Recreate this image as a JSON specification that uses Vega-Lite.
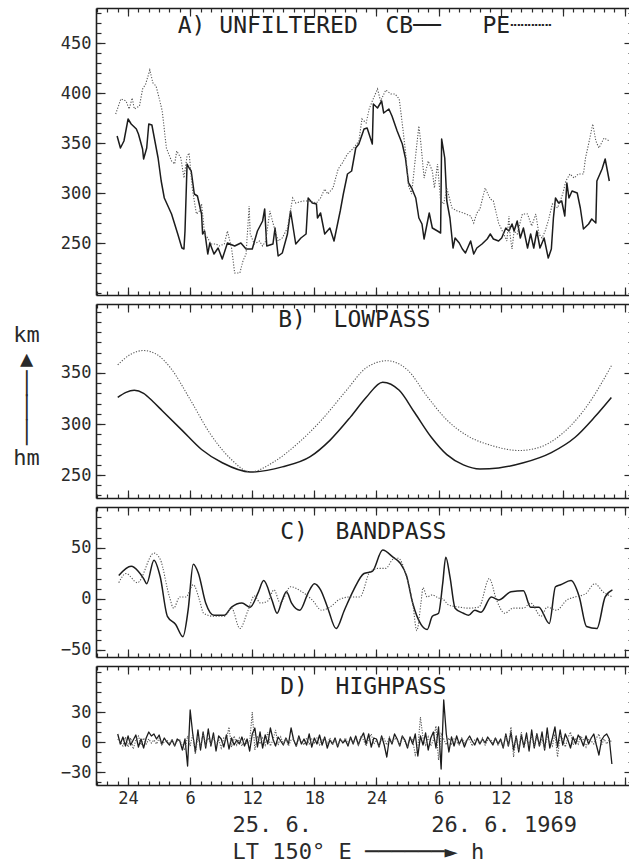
{
  "$schema": "https://vega.github.io/schema/vega-lite/v6.json",
  "background": "white",
  "autosize": {"type": "pad"},
  "padding": {"left": 12, "top": 7, "right": 0, "bottom": 0},
  "spacing": 7,
  "datasets": {
    "A": [
      {"t":22.94,"s":"CB","v":357},{"t":23.26,"s":"CB","v":345},{"t":23.6,"s":"CB","v":352},{"t":24.0,"s":"CB","v":374},{"t":24.3,"s":"CB","v":369},{"t":24.8,"s":"CB","v":364},{"t":25.0,"s":"CB","v":359},{"t":25.4,"s":"CB","v":344},{"t":25.5,"s":"CB","v":334},{"t":25.8,"s":"CB","v":345},{"t":26.0,"s":"CB","v":369},{"t":26.3,"s":"CB","v":368},{"t":26.9,"s":"CB","v":335},{"t":27.2,"s":"CB","v":312},{"t":27.5,"s":"CB","v":295},{"t":28.2,"s":"CB","v":279},{"t":28.8,"s":"CB","v":259},{"t":29.2,"s":"CB","v":245},{"t":29.4,"s":"CB","v":244},{"t":29.5,"s":"CB","v":262},{"t":29.7,"s":"CB","v":329},{"t":29.9,"s":"CB","v":325},{"t":30.1,"s":"CB","v":322},{"t":30.4,"s":"CB","v":299},{"t":30.7,"s":"CB","v":297},{"t":31.1,"s":"CB","v":279},{"t":31.2,"s":"CB","v":259},{"t":31.4,"s":"CB","v":262},{"t":31.7,"s":"CB","v":239},{"t":31.9,"s":"CB","v":250},{"t":32.3,"s":"CB","v":239},{"t":32.7,"s":"CB","v":245},{"t":33.1,"s":"CB","v":234},{"t":33.6,"s":"CB","v":250},{"t":34.3,"s":"CB","v":247},{"t":34.9,"s":"CB","v":250},{"t":35.4,"s":"CB","v":244},{"t":36.0,"s":"CB","v":244},{"t":36.5,"s":"CB","v":262},{"t":37.0,"s":"CB","v":272},{"t":37.2,"s":"CB","v":284},{"t":37.4,"s":"CB","v":247},{"t":38.0,"s":"CB","v":249},{"t":38.2,"s":"CB","v":265},{"t":38.5,"s":"CB","v":237},{"t":38.9,"s":"CB","v":240},{"t":39.4,"s":"CB","v":259},{"t":39.7,"s":"CB","v":282},{"t":40.2,"s":"CB","v":249},{"t":40.7,"s":"CB","v":255},{"t":41.2,"s":"CB","v":259},{"t":41.4,"s":"CB","v":295},{"t":41.8,"s":"CB","v":290},{"t":42.2,"s":"CB","v":289},{"t":42.3,"s":"CB","v":275},{"t":42.6,"s":"CB","v":280},{"t":43.0,"s":"CB","v":259},{"t":43.5,"s":"CB","v":265},{"t":43.9,"s":"CB","v":252},{"t":44.3,"s":"CB","v":272},{"t":44.5,"s":"CB","v":282},{"t":44.8,"s":"CB","v":299},{"t":45.2,"s":"CB","v":319},{"t":45.6,"s":"CB","v":322},{"t":46.0,"s":"CB","v":345},{"t":46.3,"s":"CB","v":349},{"t":46.8,"s":"CB","v":364},{"t":47.1,"s":"CB","v":365},{"t":47.6,"s":"CB","v":349},{"t":47.7,"s":"CB","v":389},{"t":48.1,"s":"CB","v":385},{"t":48.5,"s":"CB","v":392},{"t":48.7,"s":"CB","v":380},{"t":49.2,"s":"CB","v":384},{"t":49.5,"s":"CB","v":377},{"t":50.0,"s":"CB","v":362},{"t":50.5,"s":"CB","v":349},{"t":50.8,"s":"CB","v":335},{"t":51.1,"s":"CB","v":310},{"t":51.4,"s":"CB","v":305},{"t":51.8,"s":"CB","v":295},{"t":52.1,"s":"CB","v":275},{"t":52.4,"s":"CB","v":269},{"t":52.6,"s":"CB","v":254},{"t":53.1,"s":"CB","v":280},{"t":53.4,"s":"CB","v":265},{"t":53.9,"s":"CB","v":262},{"t":54.2,"s":"CB","v":260},{"t":54.3,"s":"CB","v":354},{"t":54.6,"s":"CB","v":335},{"t":54.8,"s":"CB","v":292},{"t":55.1,"s":"CB","v":275},{"t":55.4,"s":"CB","v":245},{"t":55.6,"s":"CB","v":255},{"t":56.0,"s":"CB","v":250},{"t":56.3,"s":"CB","v":244},{"t":56.6,"s":"CB","v":240},{"t":57.1,"s":"CB","v":252},{"t":57.4,"s":"CB","v":239},{"t":57.7,"s":"CB","v":245},{"t":58.2,"s":"CB","v":249},{"t":58.7,"s":"CB","v":254},{"t":59.0,"s":"CB","v":259},{"t":59.3,"s":"CB","v":254},{"t":59.8,"s":"CB","v":252},{"t":60.1,"s":"CB","v":255},{"t":60.5,"s":"CB","v":265},{"t":60.8,"s":"CB","v":262},{"t":61.1,"s":"CB","v":269},{"t":61.3,"s":"CB","v":262},{"t":61.6,"s":"CB","v":272},{"t":61.9,"s":"CB","v":255},{"t":62.2,"s":"CB","v":265},{"t":62.6,"s":"CB","v":245},{"t":62.9,"s":"CB","v":259},{"t":63.2,"s":"CB","v":245},{"t":63.5,"s":"CB","v":262},{"t":63.8,"s":"CB","v":245},{"t":64.2,"s":"CB","v":255},{"t":64.6,"s":"CB","v":235},{"t":64.9,"s":"CB","v":244},{"t":65.1,"s":"CB","v":275},{"t":65.3,"s":"CB","v":295},{"t":65.6,"s":"CB","v":290},{"t":65.9,"s":"CB","v":292},{"t":66.2,"s":"CB","v":277},{"t":66.4,"s":"CB","v":310},{"t":66.6,"s":"CB","v":295},{"t":66.9,"s":"CB","v":302},{"t":67.4,"s":"CB","v":300},{"t":67.7,"s":"CB","v":285},{"t":68.0,"s":"CB","v":264},{"t":68.5,"s":"CB","v":269},{"t":68.8,"s":"CB","v":274},{"t":69.2,"s":"CB","v":270},{"t":69.3,"s":"CB","v":312},{"t":69.8,"s":"CB","v":324},{"t":70.1,"s":"CB","v":334},{"t":70.5,"s":"CB","v":312},
      {"t":22.8,"s":"PE","v":379},{"t":23.3,"s":"PE","v":394},{"t":23.8,"s":"PE","v":392},{"t":24.1,"s":"PE","v":384},{"t":24.4,"s":"PE","v":395},{"t":24.6,"s":"PE","v":384},{"t":25.1,"s":"PE","v":387},{"t":25.4,"s":"PE","v":404},{"t":25.7,"s":"PE","v":409},{"t":26.1,"s":"PE","v":423},{"t":26.4,"s":"PE","v":410},{"t":26.7,"s":"PE","v":407},{"t":27.0,"s":"PE","v":395},{"t":27.3,"s":"PE","v":382},{"t":27.7,"s":"PE","v":345},{"t":28.2,"s":"PE","v":332},{"t":28.5,"s":"PE","v":329},{"t":28.7,"s":"PE","v":342},{"t":29.1,"s":"PE","v":335},{"t":29.4,"s":"PE","v":315},{"t":29.7,"s":"PE","v":337},{"t":29.9,"s":"PE","v":340},{"t":30.2,"s":"PE","v":305},{"t":30.6,"s":"PE","v":279},{"t":30.9,"s":"PE","v":282},{"t":31.1,"s":"PE","v":289},{"t":31.4,"s":"PE","v":259},{"t":31.7,"s":"PE","v":255},{"t":32.0,"s":"PE","v":249},{"t":32.5,"s":"PE","v":249},{"t":32.8,"s":"PE","v":247},{"t":33.3,"s":"PE","v":249},{"t":33.6,"s":"PE","v":262},{"t":34.0,"s":"PE","v":245},{"t":34.3,"s":"PE","v":220},{"t":34.8,"s":"PE","v":220},{"t":35.1,"s":"PE","v":232},{"t":35.4,"s":"PE","v":239},{"t":35.7,"s":"PE","v":287},{"t":35.8,"s":"PE","v":259},{"t":36.2,"s":"PE","v":249},{"t":36.7,"s":"PE","v":252},{"t":37.0,"s":"PE","v":247},{"t":37.3,"s":"PE","v":252},{"t":37.7,"s":"PE","v":282},{"t":38.0,"s":"PE","v":270},{"t":38.5,"s":"PE","v":252},{"t":38.9,"s":"PE","v":255},{"t":39.4,"s":"PE","v":265},{"t":39.9,"s":"PE","v":295},{"t":40.2,"s":"PE","v":290},{"t":40.9,"s":"PE","v":292},{"t":41.5,"s":"PE","v":292},{"t":42.2,"s":"PE","v":290},{"t":42.6,"s":"PE","v":295},{"t":43.0,"s":"PE","v":304},{"t":43.3,"s":"PE","v":299},{"t":43.8,"s":"PE","v":305},{"t":44.3,"s":"PE","v":324},{"t":44.7,"s":"PE","v":330},{"t":45.2,"s":"PE","v":339},{"t":45.8,"s":"PE","v":345},{"t":46.3,"s":"PE","v":352},{"t":46.6,"s":"PE","v":374},{"t":47.0,"s":"PE","v":370},{"t":47.3,"s":"PE","v":384},{"t":47.6,"s":"PE","v":392},{"t":48.1,"s":"PE","v":404},{"t":48.4,"s":"PE","v":392},{"t":48.9,"s":"PE","v":403},{"t":49.4,"s":"PE","v":399},{"t":49.8,"s":"PE","v":399},{"t":50.2,"s":"PE","v":394},{"t":50.5,"s":"PE","v":369},{"t":50.8,"s":"PE","v":342},{"t":51.1,"s":"PE","v":307},{"t":51.4,"s":"PE","v":299},{"t":51.8,"s":"PE","v":339},{"t":52.1,"s":"PE","v":367},{"t":52.3,"s":"PE","v":349},{"t":52.6,"s":"PE","v":315},{"t":53.0,"s":"PE","v":332},{"t":53.4,"s":"PE","v":322},{"t":53.6,"s":"PE","v":305},{"t":53.9,"s":"PE","v":329},{"t":54.2,"s":"PE","v":292},{"t":54.5,"s":"PE","v":289},{"t":54.8,"s":"PE","v":305},{"t":55.3,"s":"PE","v":285},{"t":55.8,"s":"PE","v":282},{"t":56.4,"s":"PE","v":280},{"t":57.1,"s":"PE","v":277},{"t":57.4,"s":"PE","v":270},{"t":57.7,"s":"PE","v":280},{"t":58.0,"s":"PE","v":284},{"t":58.5,"s":"PE","v":305},{"t":59.0,"s":"PE","v":294},{"t":59.3,"s":"PE","v":292},{"t":59.8,"s":"PE","v":270},{"t":60.3,"s":"PE","v":259},{"t":60.6,"s":"PE","v":252},{"t":60.8,"s":"PE","v":277},{"t":60.9,"s":"PE","v":259},{"t":61.1,"s":"PE","v":244},{"t":61.3,"s":"PE","v":262},{"t":61.6,"s":"PE","v":259},{"t":62.1,"s":"PE","v":279},{"t":62.6,"s":"PE","v":279},{"t":63.0,"s":"PE","v":267},{"t":63.4,"s":"PE","v":279},{"t":63.7,"s":"PE","v":259},{"t":64.0,"s":"PE","v":255},{"t":64.3,"s":"PE","v":262},{"t":64.6,"s":"PE","v":272},{"t":65.0,"s":"PE","v":289},{"t":65.5,"s":"PE","v":285},{"t":66.0,"s":"PE","v":299},{"t":66.3,"s":"PE","v":312},{"t":66.7,"s":"PE","v":319},{"t":67.1,"s":"PE","v":315},{"t":67.5,"s":"PE","v":319},{"t":68.0,"s":"PE","v":319},{"t":68.2,"s":"PE","v":335},{"t":68.5,"s":"PE","v":349},{"t":68.9,"s":"PE","v":369},{"t":69.2,"s":"PE","v":352},{"t":69.5,"s":"PE","v":345},{"t":70.0,"s":"PE","v":355},{"t":70.5,"s":"PE","v":352}
    ],
    "B": [
      {"t":23.0,"s":"CB","v":326},{"t":23.8,"s":"CB","v":331},{"t":24.6,"s":"CB","v":333},{"t":25.5,"s":"CB","v":330},{"t":26.4,"s":"CB","v":322},{"t":27.3,"s":"CB","v":313},{"t":29.2,"s":"CB","v":294},{"t":31.1,"s":"CB","v":275},{"t":33.1,"s":"CB","v":262},{"t":35.8,"s":"CB","v":253},{"t":38.9,"s":"CB","v":258},{"t":41.6,"s":"CB","v":268},{"t":43.5,"s":"CB","v":284},{"t":45.5,"s":"CB","v":307},{"t":47.0,"s":"CB","v":326},{"t":48.6,"s":"CB","v":341},{"t":50.2,"s":"CB","v":333},{"t":51.7,"s":"CB","v":311},{"t":53.3,"s":"CB","v":287},{"t":54.8,"s":"CB","v":270},{"t":56.4,"s":"CB","v":260},{"t":58.0,"s":"CB","v":256},{"t":59.8,"s":"CB","v":257},{"t":62.2,"s":"CB","v":262},{"t":64.9,"s":"CB","v":272},{"t":67.2,"s":"CB","v":287},{"t":69.1,"s":"CB","v":307},{"t":70.7,"s":"CB","v":326},
      {"t":23.0,"s":"PE","v":358},{"t":24.2,"s":"PE","v":368},{"t":25.5,"s":"PE","v":372},{"t":26.8,"s":"PE","v":368},{"t":28.1,"s":"PE","v":355},{"t":30.0,"s":"PE","v":324},{"t":31.9,"s":"PE","v":291},{"t":33.9,"s":"PE","v":266},{"t":35.8,"s":"PE","v":253},{"t":38.1,"s":"PE","v":263},{"t":40.4,"s":"PE","v":281},{"t":42.7,"s":"PE","v":304},{"t":45.1,"s":"PE","v":333},{"t":47.0,"s":"PE","v":355},{"t":49.0,"s":"PE","v":362},{"t":51.0,"s":"PE","v":353},{"t":52.9,"s":"PE","v":327},{"t":54.8,"s":"PE","v":304},{"t":56.7,"s":"PE","v":289},{"t":59.1,"s":"PE","v":279},{"t":61.8,"s":"PE","v":274},{"t":63.7,"s":"PE","v":277},{"t":66.0,"s":"PE","v":291},{"t":68.3,"s":"PE","v":317},{"t":70.7,"s":"PE","v":357}
    ],
    "C": [
      {"t":23.1,"s":"CB","v":23},{"t":24.3,"s":"CB","v":32},{"t":25.0,"s":"CB","v":27},{"t":25.5,"s":"CB","v":20},{"t":25.8,"s":"CB","v":15},{"t":26.5,"s":"CB","v":38},{"t":27.1,"s":"CB","v":22},{"t":27.8,"s":"CB","v":-17},{"t":28.6,"s":"CB","v":-25},{"t":29.3,"s":"CB","v":-37},{"t":29.8,"s":"CB","v":-11},{"t":30.3,"s":"CB","v":34},{"t":30.8,"s":"CB","v":25},{"t":31.5,"s":"CB","v":-4},{"t":32.3,"s":"CB","v":-16},{"t":33.3,"s":"CB","v":-16},{"t":34.0,"s":"CB","v":-8},{"t":35.0,"s":"CB","v":-4},{"t":35.8,"s":"CB","v":-8},{"t":36.6,"s":"CB","v":7},{"t":37.1,"s":"CB","v":18},{"t":37.9,"s":"CB","v":-1},{"t":38.4,"s":"CB","v":-14},{"t":38.9,"s":"CB","v":-1},{"t":39.3,"s":"CB","v":7},{"t":39.8,"s":"CB","v":-4},{"t":40.6,"s":"CB","v":-11},{"t":41.4,"s":"CB","v":6},{"t":42.0,"s":"CB","v":15},{"t":42.6,"s":"CB","v":9},{"t":43.3,"s":"CB","v":-9},{"t":44.1,"s":"CB","v":-29},{"t":44.9,"s":"CB","v":-11},{"t":45.8,"s":"CB","v":9},{"t":46.8,"s":"CB","v":25},{"t":47.6,"s":"CB","v":27},{"t":48.6,"s":"CB","v":48},{"t":49.6,"s":"CB","v":41},{"t":50.3,"s":"CB","v":35},{"t":50.9,"s":"CB","v":23},{"t":51.5,"s":"CB","v":-4},{"t":52.3,"s":"CB","v":-25},{"t":52.9,"s":"CB","v":-30},{"t":53.4,"s":"CB","v":-17},{"t":54.0,"s":"CB","v":-14},{"t":54.4,"s":"CB","v":15},{"t":54.7,"s":"CB","v":41},{"t":55.1,"s":"CB","v":22},{"t":55.6,"s":"CB","v":-9},{"t":56.4,"s":"CB","v":-14},{"t":56.9,"s":"CB","v":-16},{"t":57.5,"s":"CB","v":-11},{"t":58.1,"s":"CB","v":-13},{"t":59.1,"s":"CB","v":2},{"t":59.8,"s":"CB","v":-1},{"t":61.0,"s":"CB","v":7},{"t":62.2,"s":"CB","v":8},{"t":62.9,"s":"CB","v":-8},{"t":63.7,"s":"CB","v":-8},{"t":64.7,"s":"CB","v":-24},{"t":65.3,"s":"CB","v":12},{"t":65.8,"s":"CB","v":14},{"t":66.8,"s":"CB","v":18},{"t":67.6,"s":"CB","v":2},{"t":68.3,"s":"CB","v":-27},{"t":69.3,"s":"CB","v":-29},{"t":70.1,"s":"CB","v":2},{"t":70.8,"s":"CB","v":9},
      {"t":23.1,"s":"PE","v":16},{"t":23.8,"s":"PE","v":25},{"t":24.9,"s":"PE","v":16},{"t":26.5,"s":"PE","v":45},{"t":27.1,"s":"PE","v":39},{"t":28.0,"s":"PE","v":2},{"t":28.4,"s":"PE","v":-9},{"t":29.0,"s":"PE","v":2},{"t":29.6,"s":"PE","v":2},{"t":30.3,"s":"PE","v":14},{"t":30.9,"s":"PE","v":-1},{"t":31.3,"s":"PE","v":-14},{"t":32.3,"s":"PE","v":-17},{"t":33.3,"s":"PE","v":-17},{"t":34.0,"s":"PE","v":-9},{"t":34.8,"s":"PE","v":-29},{"t":35.6,"s":"PE","v":-11},{"t":36.2,"s":"PE","v":3},{"t":36.8,"s":"PE","v":-4},{"t":37.5,"s":"PE","v":-2},{"t":38.1,"s":"PE","v":9},{"t":38.7,"s":"PE","v":-4},{"t":39.7,"s":"PE","v":12},{"t":40.8,"s":"PE","v":7},{"t":41.8,"s":"PE","v":-1},{"t":42.7,"s":"PE","v":-11},{"t":43.5,"s":"PE","v":-8},{"t":44.5,"s":"PE","v":0},{"t":45.5,"s":"PE","v":2},{"t":46.4,"s":"PE","v":2},{"t":47.4,"s":"PE","v":27},{"t":48.2,"s":"PE","v":30},{"t":48.9,"s":"PE","v":30},{"t":49.6,"s":"PE","v":39},{"t":50.1,"s":"PE","v":40},{"t":50.9,"s":"PE","v":22},{"t":51.5,"s":"PE","v":-4},{"t":51.9,"s":"PE","v":-31},{"t":52.3,"s":"PE","v":-4},{"t":52.5,"s":"PE","v":11},{"t":52.9,"s":"PE","v":2},{"t":53.4,"s":"PE","v":4},{"t":54.0,"s":"PE","v":1},{"t":54.4,"s":"PE","v":0},{"t":55.0,"s":"PE","v":-6},{"t":56.0,"s":"PE","v":-8},{"t":56.9,"s":"PE","v":-9},{"t":57.9,"s":"PE","v":-8},{"t":58.9,"s":"PE","v":20},{"t":59.6,"s":"PE","v":-1},{"t":60.4,"s":"PE","v":-14},{"t":61.2,"s":"PE","v":-9},{"t":62.2,"s":"PE","v":-9},{"t":62.9,"s":"PE","v":-4},{"t":63.9,"s":"PE","v":-17},{"t":64.5,"s":"PE","v":-8},{"t":65.4,"s":"PE","v":-11},{"t":66.4,"s":"PE","v":-1},{"t":67.2,"s":"PE","v":2},{"t":68.2,"s":"PE","v":5},{"t":69.1,"s":"PE","v":15},{"t":69.9,"s":"PE","v":7},{"t":70.8,"s":"PE","v":2}
    ],
    "D": [
      {"t":23,"s":"CB","v":8},{"t":23.25,"s":"CB","v":-2},{"t":23.5,"s":"CB","v":5},{"t":23.75,"s":"CB","v":-4},
      {"t":24,"s":"CB","v":6},{"t":24.25,"s":"CB","v":-3},{"t":24.5,"s":"CB","v":2},{"t":24.75,"s":"CB","v":7},
      {"t":25,"s":"CB","v":-5},{"t":25.25,"s":"CB","v":3},{"t":25.5,"s":"CB","v":-6},{"t":25.75,"s":"CB","v":4},
      {"t":26,"s":"CB","v":10},{"t":26.25,"s":"CB","v":6},{"t":26.5,"s":"CB","v":8},{"t":26.75,"s":"CB","v":3},
      {"t":27,"s":"CB","v":7},{"t":27.25,"s":"CB","v":-2},{"t":27.5,"s":"CB","v":4},{"t":27.75,"s":"CB","v":0},
      {"t":28,"s":"CB","v":-3},{"t":28.25,"s":"CB","v":2},{"t":28.5,"s":"CB","v":-4},{"t":28.75,"s":"CB","v":3},
      {"t":29,"s":"CB","v":1},{"t":29.25,"s":"CB","v":-8},{"t":29.5,"s":"CB","v":3},{"t":29.75,"s":"CB","v":-24},
      {"t":30,"s":"CB","v":32},{"t":30.25,"s":"CB","v":8},{"t":30.5,"s":"CB","v":-10},{"t":30.75,"s":"CB","v":12},
      {"t":31,"s":"CB","v":-8},{"t":31.25,"s":"CB","v":10},{"t":31.5,"s":"CB","v":-6},{"t":31.75,"s":"CB","v":13},
      {"t":32,"s":"CB","v":-4},{"t":32.25,"s":"CB","v":9},{"t":32.5,"s":"CB","v":-9},{"t":32.75,"s":"CB","v":6},
      {"t":33,"s":"CB","v":3},{"t":33.25,"s":"CB","v":-5},{"t":33.5,"s":"CB","v":7},{"t":33.75,"s":"CB","v":-7},
      {"t":34,"s":"CB","v":4},{"t":34.25,"s":"CB","v":-3},{"t":34.5,"s":"CB","v":2},{"t":34.75,"s":"CB","v":-2},
      {"t":35,"s":"CB","v":5},{"t":35.25,"s":"CB","v":-4},{"t":35.5,"s":"CB","v":3},{"t":35.75,"s":"CB","v":-9},
      {"t":36,"s":"CB","v":8},{"t":36.25,"s":"CB","v":14},{"t":36.5,"s":"CB","v":-5},{"t":36.75,"s":"CB","v":10},
      {"t":37,"s":"CB","v":-6},{"t":37.25,"s":"CB","v":7},{"t":37.5,"s":"CB","v":-2},{"t":37.75,"s":"CB","v":14},
      {"t":38,"s":"CB","v":3},{"t":38.25,"s":"CB","v":-4},{"t":38.5,"s":"CB","v":5},{"t":38.75,"s":"CB","v":1},
      {"t":39,"s":"CB","v":-3},{"t":39.25,"s":"CB","v":4},{"t":39.5,"s":"CB","v":-2},{"t":39.75,"s":"CB","v":14},
      {"t":40,"s":"CB","v":2},{"t":40.25,"s":"CB","v":-4},{"t":40.5,"s":"CB","v":6},{"t":40.75,"s":"CB","v":-2},
      {"t":41,"s":"CB","v":3},{"t":41.25,"s":"CB","v":-3},{"t":41.5,"s":"CB","v":8},{"t":41.75,"s":"CB","v":-5},
      {"t":42,"s":"CB","v":4},{"t":42.25,"s":"CB","v":-2},{"t":42.5,"s":"CB","v":7},{"t":42.75,"s":"CB","v":-3},
      {"t":43,"s":"CB","v":5},{"t":43.25,"s":"CB","v":-6},{"t":43.5,"s":"CB","v":2},{"t":43.75,"s":"CB","v":-2},
      {"t":44,"s":"CB","v":4},{"t":44.25,"s":"CB","v":-5},{"t":44.5,"s":"CB","v":3},{"t":44.75,"s":"CB","v":-1},
      {"t":45,"s":"CB","v":2},{"t":45.25,"s":"CB","v":-4},{"t":45.5,"s":"CB","v":5},{"t":45.75,"s":"CB","v":-2},
      {"t":46,"s":"CB","v":6},{"t":46.25,"s":"CB","v":-3},{"t":46.5,"s":"CB","v":4},{"t":46.75,"s":"CB","v":9},
      {"t":47,"s":"CB","v":-2},{"t":47.25,"s":"CB","v":8},{"t":47.5,"s":"CB","v":-5},{"t":47.75,"s":"CB","v":4},
      {"t":48,"s":"CB","v":3},{"t":48.25,"s":"CB","v":-5},{"t":48.5,"s":"CB","v":6},{"t":48.75,"s":"CB","v":-3},
      {"t":49,"s":"CB","v":-15},{"t":49.25,"s":"CB","v":4},{"t":49.5,"s":"CB","v":-2},{"t":49.75,"s":"CB","v":8},
      {"t":50,"s":"CB","v":3},{"t":50.25,"s":"CB","v":-4},{"t":50.5,"s":"CB","v":6},{"t":50.75,"s":"CB","v":2},
      {"t":51,"s":"CB","v":-6},{"t":51.25,"s":"CB","v":5},{"t":51.5,"s":"CB","v":-2},{"t":51.75,"s":"CB","v":8},
      {"t":52,"s":"CB","v":-14},{"t":52.25,"s":"CB","v":6},{"t":52.5,"s":"CB","v":-3},{"t":52.75,"s":"CB","v":9},
      {"t":53,"s":"CB","v":-8},{"t":53.25,"s":"CB","v":4},{"t":53.5,"s":"CB","v":10},{"t":53.75,"s":"CB","v":-6},
      {"t":54,"s":"CB","v":15},{"t":54.25,"s":"CB","v":-27},{"t":54.5,"s":"CB","v":42},{"t":54.75,"s":"CB","v":8},
      {"t":55,"s":"CB","v":-10},{"t":55.25,"s":"CB","v":5},{"t":55.5,"s":"CB","v":-4},{"t":55.75,"s":"CB","v":6},
      {"t":56,"s":"CB","v":-2},{"t":56.25,"s":"CB","v":3},{"t":56.5,"s":"CB","v":-5},{"t":56.75,"s":"CB","v":2},
      {"t":57,"s":"CB","v":6},{"t":57.25,"s":"CB","v":1},{"t":57.5,"s":"CB","v":-3},{"t":57.75,"s":"CB","v":4},
      {"t":58,"s":"CB","v":-2},{"t":58.25,"s":"CB","v":3},{"t":58.5,"s":"CB","v":-1},{"t":58.75,"s":"CB","v":5},
      {"t":59,"s":"CB","v":1},{"t":59.25,"s":"CB","v":-3},{"t":59.5,"s":"CB","v":4},{"t":59.75,"s":"CB","v":-2},
      {"t":60,"s":"CB","v":3},{"t":60.25,"s":"CB","v":-6},{"t":60.5,"s":"CB","v":8},{"t":60.75,"s":"CB","v":-4},
      {"t":61,"s":"CB","v":10},{"t":61.25,"s":"CB","v":-8},{"t":61.5,"s":"CB","v":6},{"t":61.75,"s":"CB","v":-10},
      {"t":62,"s":"CB","v":7},{"t":62.25,"s":"CB","v":-5},{"t":62.5,"s":"CB","v":9},{"t":62.75,"s":"CB","v":-9},
      {"t":63,"s":"CB","v":12},{"t":63.25,"s":"CB","v":-6},{"t":63.5,"s":"CB","v":8},{"t":63.75,"s":"CB","v":-4},
      {"t":64,"s":"CB","v":10},{"t":64.25,"s":"CB","v":-8},{"t":64.5,"s":"CB","v":14},{"t":64.75,"s":"CB","v":-6},
      {"t":65,"s":"CB","v":4},{"t":65.25,"s":"CB","v":15},{"t":65.5,"s":"CB","v":-5},{"t":65.75,"s":"CB","v":12},
      {"t":66,"s":"CB","v":-3},{"t":66.25,"s":"CB","v":8},{"t":66.5,"s":"CB","v":2},{"t":66.75,"s":"CB","v":-6},
      {"t":67,"s":"CB","v":5},{"t":67.25,"s":"CB","v":-2},{"t":67.5,"s":"CB","v":7},{"t":67.75,"s":"CB","v":3},
      {"t":68,"s":"CB","v":-4},{"t":68.25,"s":"CB","v":6},{"t":68.5,"s":"CB","v":-2},{"t":68.75,"s":"CB","v":4},
      {"t":69,"s":"CB","v":8},{"t":69.25,"s":"CB","v":-3},{"t":69.5,"s":"CB","v":-13},{"t":69.75,"s":"CB","v":2},
      {"t":70,"s":"CB","v":6},{"t":70.25,"s":"CB","v":8},{"t":70.5,"s":"CB","v":3},{"t":70.75,"s":"CB","v":-22},
      {"t":23,"s":"PE","v":3},{"t":23.25,"s":"PE","v":0},{"t":23.5,"s":"PE","v":-4},{"t":23.75,"s":"PE","v":5},
      {"t":24,"s":"PE","v":-5},{"t":24.25,"s":"PE","v":4},{"t":24.5,"s":"PE","v":-7},{"t":24.75,"s":"PE","v":2},
      {"t":25,"s":"PE","v":6},{"t":25.25,"s":"PE","v":-3},{"t":25.5,"s":"PE","v":4},{"t":25.75,"s":"PE","v":-2},
      {"t":26,"s":"PE","v":3},{"t":26.25,"s":"PE","v":-1},{"t":26.5,"s":"PE","v":2},{"t":26.75,"s":"PE","v":-2},
      {"t":27,"s":"PE","v":4},{"t":27.25,"s":"PE","v":-3},{"t":27.5,"s":"PE","v":0},{"t":27.75,"s":"PE","v":2},
      {"t":28,"s":"PE","v":-2},{"t":28.25,"s":"PE","v":3},{"t":28.5,"s":"PE","v":-3},{"t":28.75,"s":"PE","v":1},
      {"t":29,"s":"PE","v":2},{"t":29.25,"s":"PE","v":-4},{"t":29.5,"s":"PE","v":-8},{"t":29.75,"s":"PE","v":6},
      {"t":30,"s":"PE","v":-4},{"t":30.25,"s":"PE","v":8},{"t":30.5,"s":"PE","v":-12},{"t":30.75,"s":"PE","v":6},
      {"t":31,"s":"PE","v":-5},{"t":31.25,"s":"PE","v":9},{"t":31.5,"s":"PE","v":-3},{"t":31.75,"s":"PE","v":4},
      {"t":32,"s":"PE","v":-2},{"t":32.25,"s":"PE","v":5},{"t":32.5,"s":"PE","v":-4},{"t":32.75,"s":"PE","v":3},
      {"t":33,"s":"PE","v":-6},{"t":33.25,"s":"PE","v":4},{"t":33.5,"s":"PE","v":2},{"t":33.75,"s":"PE","v":15},
      {"t":34,"s":"PE","v":-5},{"t":34.25,"s":"PE","v":6},{"t":34.5,"s":"PE","v":-3},{"t":34.75,"s":"PE","v":4},
      {"t":35,"s":"PE","v":-4},{"t":35.25,"s":"PE","v":3},{"t":35.5,"s":"PE","v":-2},{"t":35.75,"s":"PE","v":0},
      {"t":36,"s":"PE","v":30},{"t":36.25,"s":"PE","v":-8},{"t":36.5,"s":"PE","v":6},{"t":36.75,"s":"PE","v":-2},
      {"t":37,"s":"PE","v":4},{"t":37.25,"s":"PE","v":-3},{"t":37.5,"s":"PE","v":10},{"t":37.75,"s":"PE","v":-4},
      {"t":38,"s":"PE","v":2},{"t":38.25,"s":"PE","v":12},{"t":38.5,"s":"PE","v":-3},{"t":38.75,"s":"PE","v":5},
      {"t":39,"s":"PE","v":-2},{"t":39.25,"s":"PE","v":4},{"t":39.5,"s":"PE","v":-4},{"t":39.75,"s":"PE","v":2},
      {"t":40,"s":"PE","v":3},{"t":40.25,"s":"PE","v":-5},{"t":40.5,"s":"PE","v":4},{"t":40.75,"s":"PE","v":1},
      {"t":41,"s":"PE","v":-3},{"t":41.25,"s":"PE","v":4},{"t":41.5,"s":"PE","v":-2},{"t":41.75,"s":"PE","v":3},
      {"t":42,"s":"PE","v":-1},{"t":42.25,"s":"PE","v":4},{"t":42.5,"s":"PE","v":-3},{"t":42.75,"s":"PE","v":2},
      {"t":43,"s":"PE","v":3},{"t":43.25,"s":"PE","v":-2},{"t":43.5,"s":"PE","v":4},{"t":43.75,"s":"PE","v":-3},
      {"t":44,"s":"PE","v":2},{"t":44.25,"s":"PE","v":-4},{"t":44.5,"s":"PE","v":3},{"t":44.75,"s":"PE","v":0},
      {"t":45,"s":"PE","v":4},{"t":45.25,"s":"PE","v":-2},{"t":45.5,"s":"PE","v":3},{"t":45.75,"s":"PE","v":-1},
      {"t":46,"s":"PE","v":5},{"t":46.25,"s":"PE","v":-3},{"t":46.5,"s":"PE","v":6},{"t":46.75,"s":"PE","v":2},
      {"t":47,"s":"PE","v":-4},{"t":47.25,"s":"PE","v":3},{"t":47.5,"s":"PE","v":8},{"t":47.75,"s":"PE","v":-2},
      {"t":48,"s":"PE","v":2},{"t":48.25,"s":"PE","v":-5},{"t":48.5,"s":"PE","v":4},{"t":48.75,"s":"PE","v":3},
      {"t":49,"s":"PE","v":-3},{"t":49.25,"s":"PE","v":5},{"t":49.5,"s":"PE","v":-1},{"t":49.75,"s":"PE","v":4},
      {"t":50,"s":"PE","v":2},{"t":50.25,"s":"PE","v":-3},{"t":50.5,"s":"PE","v":5},{"t":50.75,"s":"PE","v":0},
      {"t":51,"s":"PE","v":-4},{"t":51.25,"s":"PE","v":3},{"t":51.5,"s":"PE","v":2},{"t":51.75,"s":"PE","v":-13},
      {"t":52,"s":"PE","v":-6},{"t":52.25,"s":"PE","v":25},{"t":52.5,"s":"PE","v":4},{"t":52.75,"s":"PE","v":-3},
      {"t":53,"s":"PE","v":5},{"t":53.25,"s":"PE","v":-4},{"t":53.5,"s":"PE","v":2},{"t":53.75,"s":"PE","v":16},
      {"t":54,"s":"PE","v":-18},{"t":54.25,"s":"PE","v":8},{"t":54.5,"s":"PE","v":3},{"t":54.75,"s":"PE","v":-3},
      {"t":55,"s":"PE","v":4},{"t":55.25,"s":"PE","v":-2},{"t":55.5,"s":"PE","v":3},{"t":55.75,"s":"PE","v":0},
      {"t":56,"s":"PE","v":-3},{"t":56.25,"s":"PE","v":4},{"t":56.5,"s":"PE","v":-1},{"t":56.75,"s":"PE","v":2},
      {"t":57,"s":"PE","v":3},{"t":57.25,"s":"PE","v":-4},{"t":57.5,"s":"PE","v":2},{"t":57.75,"s":"PE","v":1},
      {"t":58,"s":"PE","v":-2},{"t":58.25,"s":"PE","v":4},{"t":58.5,"s":"PE","v":-3},{"t":58.75,"s":"PE","v":2},
      {"t":59,"s":"PE","v":3},{"t":59.25,"s":"PE","v":-1},{"t":59.5,"s":"PE","v":4},{"t":59.75,"s":"PE","v":-3},
      {"t":60,"s":"PE","v":2},{"t":60.25,"s":"PE","v":-5},{"t":60.5,"s":"PE","v":7},{"t":60.75,"s":"PE","v":-4},
      {"t":61,"s":"PE","v":15},{"t":61.25,"s":"PE","v":-15},{"t":61.5,"s":"PE","v":6},{"t":61.75,"s":"PE","v":-8},
      {"t":62,"s":"PE","v":10},{"t":62.25,"s":"PE","v":-6},{"t":62.5,"s":"PE","v":4},{"t":62.75,"s":"PE","v":-3},
      {"t":63,"s":"PE","v":6},{"t":63.25,"s":"PE","v":-5},{"t":63.5,"s":"PE","v":9},{"t":63.75,"s":"PE","v":-4},
      {"t":64,"s":"PE","v":3},{"t":64.25,"s":"PE","v":-7},{"t":64.5,"s":"PE","v":5},{"t":64.75,"s":"PE","v":0},
      {"t":65,"s":"PE","v":-4},{"t":65.25,"s":"PE","v":8},{"t":65.5,"s":"PE","v":-15},{"t":65.75,"s":"PE","v":6},
      {"t":66,"s":"PE","v":3},{"t":66.25,"s":"PE","v":-5},{"t":66.5,"s":"PE","v":4},{"t":66.75,"s":"PE","v":10},
      {"t":67,"s":"PE","v":-3},{"t":67.25,"s":"PE","v":4},{"t":67.5,"s":"PE","v":-2},{"t":67.75,"s":"PE","v":6},
      {"t":68,"s":"PE","v":2},{"t":68.25,"s":"PE","v":-5},{"t":68.5,"s":"PE","v":3},{"t":68.75,"s":"PE","v":1},
      {"t":69,"s":"PE","v":-2},{"t":69.25,"s":"PE","v":4},{"t":69.5,"s":"PE","v":8},{"t":69.75,"s":"PE","v":-3},
      {"t":70,"s":"PE","v":3},{"t":70.25,"s":"PE","v":-2},{"t":70.5,"s":"PE","v":2},{"t":70.75,"s":"PE","v":0}
    ]
  },
  "vconcat": [
    {
      "width": 534, "height": 287,
      "data": {"name": "A"},
      "resolve": {"axis": {"x": "independent", "y": "independent"}},
      "layer": [
        {"transform": [{"filter": "datum.s === 'CB'"}],
         "mark": {"type": "line", "stroke": "#1c1c1c", "strokeWidth": 1.5, "strokeJoin": "round"},
         "encoding": {
           "x": {"field": "t", "type": "quantitative", "scale": {"domain": [20.9, 72.5], "nice": false, "zero": false},
                 "axis": {"orient": "bottom", "values": [24,30,36,42,48,54,60,66,72], "tickSize": -8, "labels": false, "domain": true, "title": null, "offset": 0}},
           "y": {"field": "v", "type": "quantitative", "scale": {"domain": [198, 485], "nice": false, "zero": false},
                 "axis": {"orient": "left", "values": [250,300,350,400,450], "tickSize": -9, "labelPadding": 14, "domain": true, "title": null, "offset": 0}}}},
        {"transform": [{"filter": "datum.s === 'PE'"}],
         "mark": {"type": "line", "stroke": "#555555", "strokeWidth": 1.1, "strokeDash": [1.2, 1.6]},
         "encoding": {
           "x": {"field": "t", "type": "quantitative", "axis": {"orient": "bottom", "values": [21,22,23,24,25,26,27,28,29,30,31,32,33,34,35,36,37,38,39,40,41,42,43,44,45,46,47,48,49,50,51,52,53,54,55,56,57,58,59,60,61,62,63,64,65,66,67,68,69,70,71,72], "tickSize": -4, "labels": false, "domain": false, "title": null, "offset": 0}},
           "y": {"field": "v", "type": "quantitative", "axis": {"orient": "left", "values": [200,210,220,230,240,250,260,270,280,290,300,310,320,330,340,350,360,370,380,390,400,410,420,430,440,450,460,470,480], "tickSize": -5, "labels": false, "domain": false, "title": null, "offset": 0}}}},
        {"mark": {"type": "line", "opacity": 0},
         "encoding": {
           "x": {"field": "t", "type": "quantitative", "axis": {"orient": "top", "values": [24,30,36,42,48,54,60,66,72], "tickSize": -8, "labels": false, "domain": true, "title": null, "offset": 0}},
           "y": {"field": "v", "type": "quantitative", "axis": {"orient": "right", "values": [250,300,350,400,450], "tickSize": -6, "labels": false, "domain": false, "title": null, "offset": 0}}}},
        {"mark": {"type": "line", "opacity": 0},
         "encoding": {
           "x": {"field": "t", "type": "quantitative", "axis": {"orient": "top", "values": [21,22,23,24,25,26,27,28,29,30,31,32,33,34,35,36,37,38,39,40,41,42,43,44,45,46,47,48,49,50,51,52,53,54,55,56,57,58,59,60,61,62,63,64,65,66,67,68,69,70,71,72], "tickSize": -4, "labels": false, "domain": false, "title": null, "offset": 0}},
           "y": {"field": "v", "type": "quantitative", "axis": {"orient": "right", "values": [200,210,220,230,240,250,260,270,280,290,300,310,320,330,340,350,360,370,380,390,400,410,420,430,440,450,460,470,480], "tickSize": -2, "labels": false, "domain": false, "title": null, "offset": 0}}}},
        {"data": {"values": [{"label": "A) UNFILTERED\u00a0\u00a0CB──\u00a0\u00a0\u00a0PE┈┈┈"}]},
         "mark": {"type": "text", "align": "left", "baseline": "middle", "font": "DejaVu Sans Mono", "fontSize": 23, "fill": "#222222"},
         "encoding": {
           "x": {"datum": 28.8, "type": "quantitative", "axis": null},
           "y": {"datum": 467, "type": "quantitative", "axis": null},
           "text": {"field": "label"}}}
      ]
    },
    {
      "width": 534, "height": 194,
      "data": {"name": "B"},
      "resolve": {"axis": {"x": "independent", "y": "independent"}},
      "layer": [
        {"transform": [{"filter": "datum.s === 'CB'"}],
         "mark": {"type": "line", "stroke": "#1c1c1c", "strokeWidth": 1.5, "interpolate": "monotone"},
         "encoding": {
           "x": {"field": "t", "type": "quantitative", "scale": {"domain": [20.9, 72.5], "nice": false, "zero": false},
                 "axis": {"orient": "bottom", "values": [24,30,36,42,48,54,60,66,72], "tickSize": -8, "labels": false, "domain": true, "title": null, "offset": 0}},
           "y": {"field": "v", "type": "quantitative", "scale": {"domain": [227.5, 417.6], "nice": false, "zero": false},
                 "axis": {"orient": "left", "values": [250,300,350], "tickSize": -9, "labelPadding": 14, "domain": true, "offset": 0,
                          "title": ["km", "▲", "│", "│", "│", "hm"], "titleAngle": 0, "titleAlign": "center", "titleBaseline": "alphabetic",
                          "titleX": -70, "titleY": 37, "titleLineHeight": 24.6, "titleFontSize": 22}}}},
        {"transform": [{"filter": "datum.s === 'PE'"}],
         "mark": {"type": "line", "stroke": "#555555", "strokeWidth": 1.1, "strokeDash": [1.2, 1.6], "interpolate": "monotone"},
         "encoding": {
           "x": {"field": "t", "type": "quantitative", "axis": {"orient": "bottom", "values": [21,22,23,24,25,26,27,28,29,30,31,32,33,34,35,36,37,38,39,40,41,42,43,44,45,46,47,48,49,50,51,52,53,54,55,56,57,58,59,60,61,62,63,64,65,66,67,68,69,70,71,72], "tickSize": -4, "labels": false, "domain": false, "title": null, "offset": 0}},
           "y": {"field": "v", "type": "quantitative", "axis": {"orient": "left", "values": [230,240,250,260,270,280,290,300,310,320,330,340,350,360,370,380,390,400,410], "tickSize": -5, "labels": false, "domain": false, "title": null, "offset": 0}}}},
        {"mark": {"type": "line", "opacity": 0},
         "encoding": {
           "x": {"field": "t", "type": "quantitative", "axis": {"orient": "top", "values": [24,30,36,42,48,54,60,66,72], "tickSize": -8, "labels": false, "domain": true, "title": null, "offset": 0}},
           "y": {"field": "v", "type": "quantitative", "axis": {"orient": "right", "values": [250,300,350], "tickSize": -6, "labels": false, "domain": false, "title": null, "offset": 0}}}},
        {"mark": {"type": "line", "opacity": 0},
         "encoding": {
           "x": {"field": "t", "type": "quantitative", "axis": {"orient": "top", "values": [21,22,23,24,25,26,27,28,29,30,31,32,33,34,35,36,37,38,39,40,41,42,43,44,45,46,47,48,49,50,51,52,53,54,55,56,57,58,59,60,61,62,63,64,65,66,67,68,69,70,71,72], "tickSize": -4, "labels": false, "domain": false, "title": null, "offset": 0}},
           "y": {"field": "v", "type": "quantitative", "axis": {"orient": "right", "values": [230,240,250,260,270,280,290,300,310,320,330,340,350,360,370,380,390,400,410], "tickSize": -2, "labels": false, "domain": false, "title": null, "offset": 0}}}},
        {"data": {"values": [{"label": "B)\u00a0\u00a0LOWPASS"}]},
         "mark": {"type": "text", "align": "left", "baseline": "middle", "font": "DejaVu Sans Mono", "fontSize": 23, "fill": "#222222"},
         "encoding": {
           "x": {"datum": 38.5, "type": "quantitative", "axis": null},
           "y": {"datum": 402, "type": "quantitative", "axis": null},
           "text": {"field": "label"}}}
      ]
    },
    {
      "width": 534, "height": 150,
      "data": {"name": "C"},
      "resolve": {"axis": {"x": "independent", "y": "independent"}},
      "layer": [
        {"transform": [{"filter": "datum.s === 'CB'"}],
         "mark": {"type": "line", "stroke": "#1c1c1c", "strokeWidth": 1.5, "interpolate": "monotone"},
         "encoding": {
           "x": {"field": "t", "type": "quantitative", "scale": {"domain": [20.9, 72.5], "nice": false, "zero": false},
                 "axis": {"orient": "bottom", "values": [24,30,36,42,48,54,60,66,72], "tickSize": -8, "labels": false, "domain": true, "title": null, "offset": 0}},
           "y": {"field": "v", "type": "quantitative", "scale": {"domain": [-56.9, 90.2], "nice": false, "zero": false},
                 "axis": {"orient": "left", "values": [-50,0,50], "tickSize": -9, "labelPadding": 14, "domain": true, "title": null, "offset": 0}}}},
        {"transform": [{"filter": "datum.s === 'PE'"}],
         "mark": {"type": "line", "stroke": "#555555", "strokeWidth": 1.1, "strokeDash": [1.2, 1.6], "interpolate": "monotone"},
         "encoding": {
           "x": {"field": "t", "type": "quantitative", "axis": {"orient": "bottom", "values": [21,22,23,24,25,26,27,28,29,30,31,32,33,34,35,36,37,38,39,40,41,42,43,44,45,46,47,48,49,50,51,52,53,54,55,56,57,58,59,60,61,62,63,64,65,66,67,68,69,70,71,72], "tickSize": -4, "labels": false, "domain": false, "title": null, "offset": 0}},
           "y": {"field": "v", "type": "quantitative", "axis": {"orient": "left", "values": [-50,-40,-30,-20,-10,0,10,20,30,40,50,60,70,80], "tickSize": -5, "labels": false, "domain": false, "title": null, "offset": 0}}}},
        {"mark": {"type": "line", "opacity": 0},
         "encoding": {
           "x": {"field": "t", "type": "quantitative", "axis": {"orient": "top", "values": [24,30,36,42,48,54,60,66,72], "tickSize": -8, "labels": false, "domain": true, "title": null, "offset": 0}},
           "y": {"field": "v", "type": "quantitative", "axis": {"orient": "right", "values": [-50,0,50], "tickSize": -6, "labels": false, "domain": false, "title": null, "offset": 0}}}},
        {"mark": {"type": "line", "opacity": 0},
         "encoding": {
           "x": {"field": "t", "type": "quantitative", "axis": {"orient": "top", "values": [21,22,23,24,25,26,27,28,29,30,31,32,33,34,35,36,37,38,39,40,41,42,43,44,45,46,47,48,49,50,51,52,53,54,55,56,57,58,59,60,61,62,63,64,65,66,67,68,69,70,71,72], "tickSize": -4, "labels": false, "domain": false, "title": null, "offset": 0}},
           "y": {"field": "v", "type": "quantitative", "axis": {"orient": "right", "values": [-50,-40,-30,-20,-10,0,10,20,30,40,50,60,70,80], "tickSize": -2, "labels": false, "domain": false, "title": null, "offset": 0}}}},
        {"data": {"values": [{"label": "C)\u00a0\u00a0BANDPASS"}]},
         "mark": {"type": "text", "align": "left", "baseline": "middle", "font": "DejaVu Sans Mono", "fontSize": 23, "fill": "#222222"},
         "encoding": {
           "x": {"datum": 38.7, "type": "quantitative", "axis": null},
           "y": {"datum": 66, "type": "quantitative", "axis": null},
           "text": {"field": "label"}}}
      ]
    },
    {
      "width": 534, "height": 119,
      "data": {"name": "D"},
      "resolve": {"axis": {"x": "independent", "y": "independent"}},
      "layer": [
        {"transform": [{"filter": "datum.s === 'CB'"}],
         "mark": {"type": "line", "stroke": "#1c1c1c", "strokeWidth": 1.3, "strokeJoin": "round"},
         "encoding": {
           "x": {"field": "t", "type": "quantitative", "scale": {"domain": [20.9, 72.5], "nice": false, "zero": false},
                 "axis": {"orient": "bottom", "values": [24,30,36,42,48,54,60,66,72], "tickSize": -8, "labelPadding": 13, "domain": true, "offset": 0,
                          "labelExpr": "datum.value >= 72 ? '' : (datum.value % 24 === 0 ? '24' : '' + (datum.value % 24))",
                          "title": ["25. 6.\u00a0\u00a0\u00a0\u00a0\u00a0\u00a0\u00a0\u00a0\u00a026. 6. 1969", "\u00a0LT 150° E ──────► h"],
                          "titleAlign": "left", "titleBaseline": "alphabetic", "titleX": 136, "titleY": 46, "titleLineHeight": 27, "titleFontSize": 22, "titleAngle": 0}},
           "y": {"field": "v", "type": "quantitative", "scale": {"domain": [-43, 76], "nice": false, "zero": false},
                 "axis": {"orient": "left", "values": [-30,0,30], "tickSize": -9, "labelPadding": 14, "domain": true, "title": null, "offset": 0}}}},
        {"transform": [{"filter": "datum.s === 'PE'"}],
         "mark": {"type": "line", "stroke": "#555555", "strokeWidth": 1.1, "strokeDash": [1.2, 1.4]},
         "encoding": {
           "x": {"field": "t", "type": "quantitative", "axis": {"orient": "bottom", "values": [21,22,23,24,25,26,27,28,29,30,31,32,33,34,35,36,37,38,39,40,41,42,43,44,45,46,47,48,49,50,51,52,53,54,55,56,57,58,59,60,61,62,63,64,65,66,67,68,69,70,71,72], "tickSize": -4, "labels": false, "domain": false, "title": null, "offset": 0}},
           "y": {"field": "v", "type": "quantitative", "axis": {"orient": "left", "values": [-40,-30,-20,-10,0,10,20,30,40,50,60,70], "tickSize": -5, "labels": false, "domain": false, "title": null, "offset": 0}}}},
        {"mark": {"type": "line", "opacity": 0},
         "encoding": {
           "x": {"field": "t", "type": "quantitative", "axis": {"orient": "top", "values": [24,30,36,42,48,54,60,66,72], "tickSize": -8, "labels": false, "domain": true, "title": null, "offset": 0}},
           "y": {"field": "v", "type": "quantitative", "axis": {"orient": "right", "values": [-30,0,30], "tickSize": -6, "labels": false, "domain": false, "title": null, "offset": 0}}}},
        {"mark": {"type": "line", "opacity": 0},
         "encoding": {
           "x": {"field": "t", "type": "quantitative", "axis": {"orient": "top", "values": [21,22,23,24,25,26,27,28,29,30,31,32,33,34,35,36,37,38,39,40,41,42,43,44,45,46,47,48,49,50,51,52,53,54,55,56,57,58,59,60,61,62,63,64,65,66,67,68,69,70,71,72], "tickSize": -4, "labels": false, "domain": false, "title": null, "offset": 0}},
           "y": {"field": "v", "type": "quantitative", "axis": {"orient": "right", "values": [-40,-30,-20,-10,0,10,20,30,40,50,60,70], "tickSize": -2, "labels": false, "domain": false, "title": null, "offset": 0}}}},
        {"data": {"values": [{"label": "D)\u00a0\u00a0HIGHPASS"}]},
         "mark": {"type": "text", "align": "left", "baseline": "middle", "font": "DejaVu Sans Mono", "fontSize": 23, "fill": "#222222"},
         "encoding": {
           "x": {"datum": 38.7, "type": "quantitative", "axis": null},
           "y": {"datum": 55, "type": "quantitative", "axis": null},
           "text": {"field": "label"}}}
      ]
    }
  ],
  "config": {
    "view": {"stroke": null},
    "font": "DejaVu Sans Mono",
    "axis": {
      "grid": false,
      "labelFont": "DejaVu Sans Mono", "labelFontSize": 17, "labelColor": "#2a2a2a",
      "labelOverlap": false, "labelFlush": false,
      "tickColor": "#2a2a2a", "tickWidth": 1.2,
      "domainColor": "#1e1e1e", "domainWidth": 1.6,
      "titleFont": "DejaVu Sans Mono", "titleFontWeight": "normal", "titleColor": "#2a2a2a"
    }
  }
}
